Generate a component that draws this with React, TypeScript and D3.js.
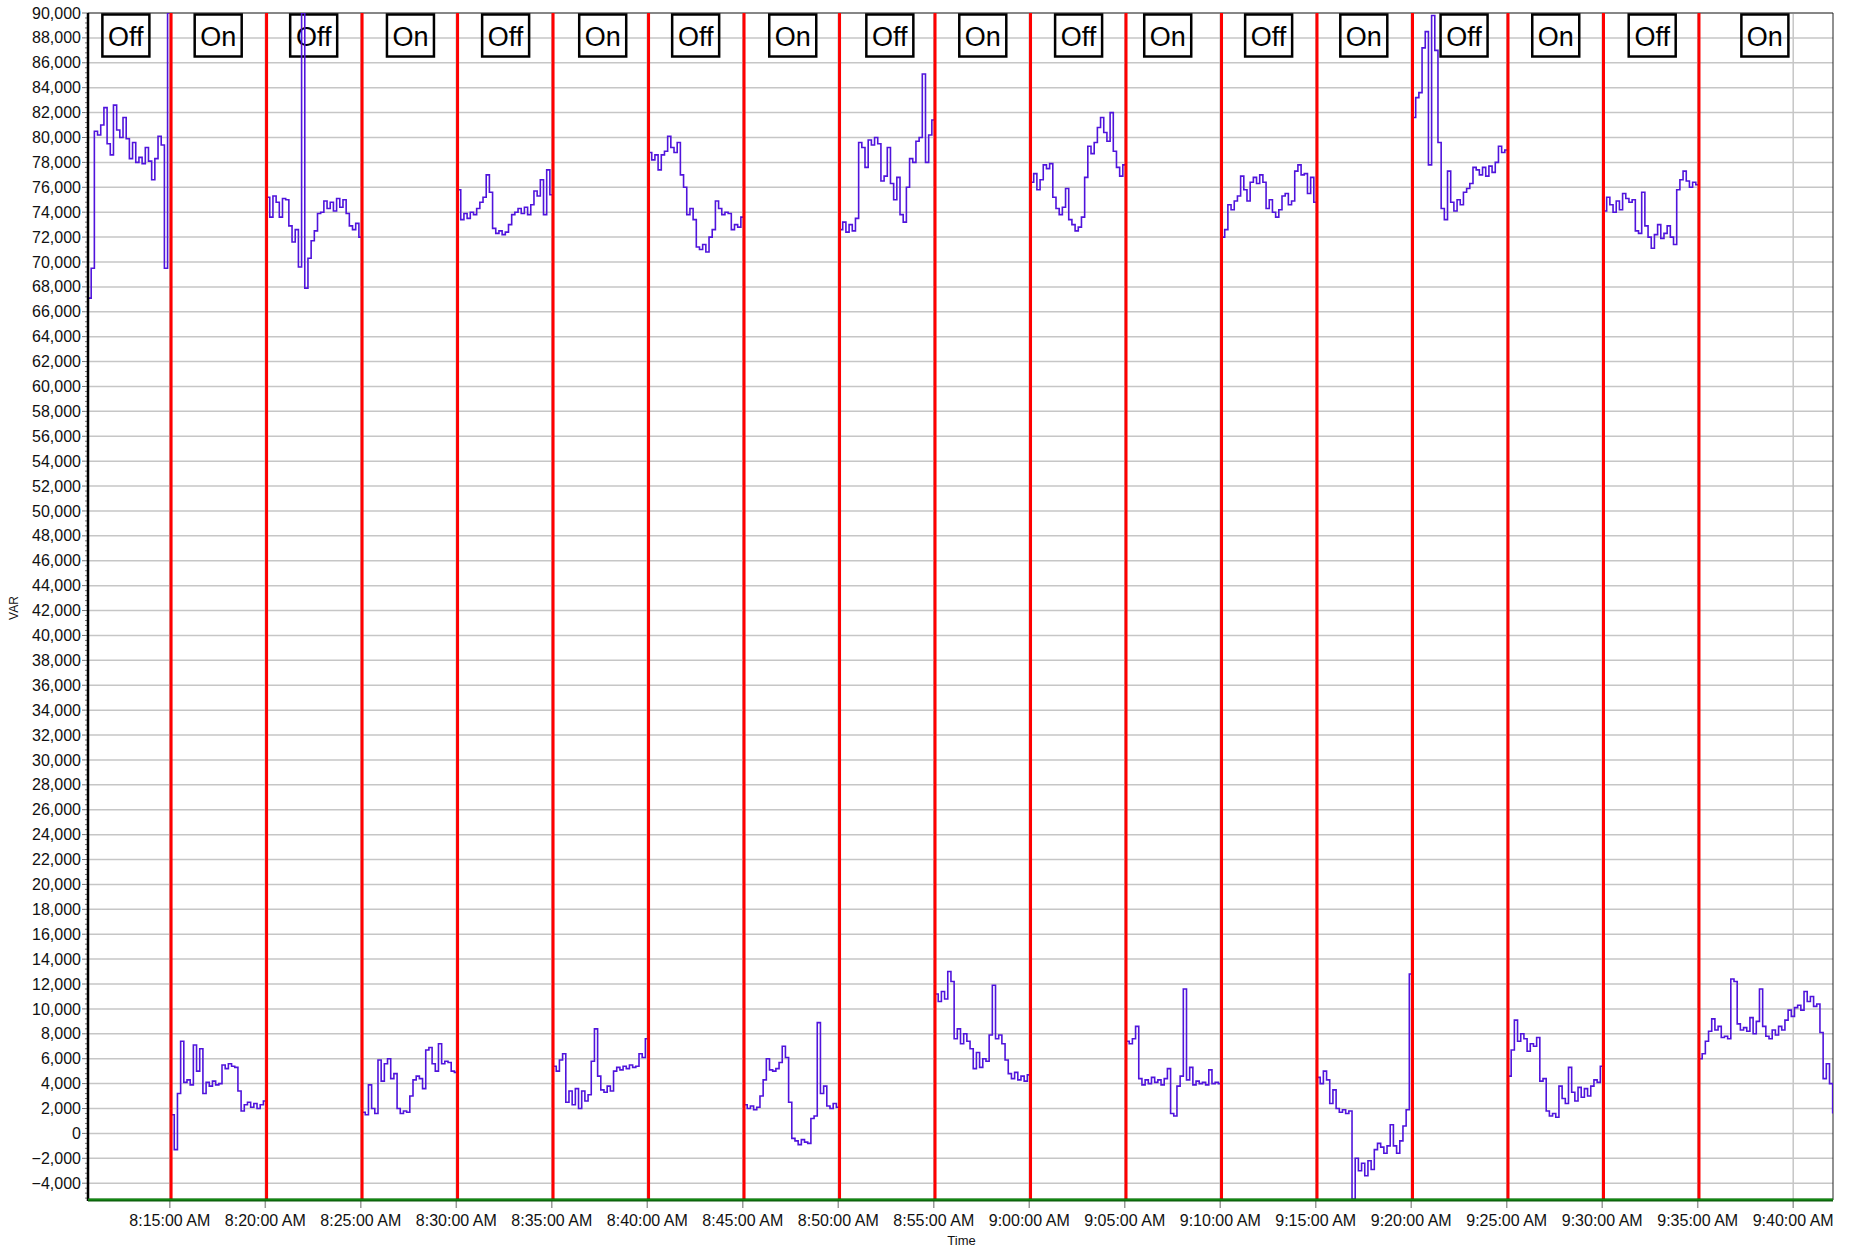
import * as d3 from "d3";

const width = 1853;
const height = 1252;
const marginLeft = 88;
const marginRight = 20;
const marginTop = 13;
const marginBottom = 52;

// time span of the recording
const startTime = "8:10:43";
const endTime = "9:42:05";
const stepSeconds = 10; // one reading every 10 s, values in kVAR

// red switch lines
const switchTimes = [
  "8:15:04", "8:20:04", "8:25:04", "8:30:04", "8:35:04", "8:40:04",
  "8:45:04", "8:50:04", "8:55:04", "9:00:04", "9:05:04", "9:10:04",
  "9:15:04", "9:20:04", "9:25:04", "9:30:04", "9:35:04",
];

// box labels (centre time + text)
const labelTimes = [
  "8:12:42", "8:17:32", "8:22:32", "8:27:36", "8:32:35", "8:37:40",
  "8:42:32", "8:47:37", "8:52:42", "8:57:34", "9:02:35", "9:07:15",
  "9:12:32", "9:17:31", "9:22:46", "9:27:34", "9:32:37", "9:38:31",
];
const labelTexts = [
  "Off", "On", "Off", "On", "Off", "On", "Off", "On", "Off",
  "On", "Off", "On", "Off", "On", "Off", "On", "Off", "On",
];

// readings per period (kVAR)
const seg0810 = [67.1, 69.5, 80.5, 80.2, 81.0, 82.4, 79.5, 78.6, 82.6, 80.6, 80.0, 81.6, 79.9, 78.3, 79.6, 78.0, 78.4, 77.9, 79.2, 78.1, 76.6, 78.3, 80.1, 79.4, 69.5, 90.0, 71.5];
const seg0815 = [1.5, -1.3, 3.2, 7.4, 4.1, 4.3, 3.9, 7.1, 5.0, 6.8, 3.2, 4.1, 3.8, 4.2, 3.9, 4.0, 5.5, 5.2, 5.6, 5.4, 5.3, 3.4, 1.8, 2.3, 2.5, 2.1, 2.4, 2.0, 2.3, 2.6, 3.0];
const seg0820 = [75.2, 73.6, 75.3, 74.8, 73.6, 75.1, 75.0, 72.9, 71.6, 72.6, 69.6, 90.0, 67.9, 70.3, 71.7, 72.5, 73.9, 74.0, 74.9, 74.3, 74.8, 74.1, 75.1, 74.4, 75.0, 73.9, 72.9, 72.6, 73.1, 72.0, 71.8];
const seg0825 = [1.7, 1.5, 3.9, 2.0, 1.6, 5.9, 4.2, 5.6, 6.0, 4.4, 4.8, 2.0, 1.6, 1.8, 1.7, 3.0, 4.3, 4.6, 4.4, 3.6, 6.7, 6.9, 5.6, 5.0, 7.2, 5.6, 5.8, 5.7, 5.0, 4.9, 5.0];
const seg0830 = [75.8, 73.4, 73.9, 73.5, 74.0, 73.8, 74.3, 74.8, 75.2, 77.0, 75.6, 72.7, 72.3, 72.5, 72.2, 72.4, 73.0, 73.8, 74.0, 74.3, 73.9, 74.4, 73.8, 74.6, 75.7, 75.3, 76.6, 73.8, 77.4, 75.4, 76.0];
const seg0835 = [5.4, 5.0, 5.9, 6.4, 2.5, 3.4, 2.3, 3.6, 2.0, 3.4, 2.6, 3.1, 5.8, 8.4, 4.6, 3.5, 3.3, 3.8, 3.4, 5.0, 5.3, 5.1, 5.4, 5.2, 5.5, 5.3, 5.4, 6.4, 6.1, 7.6, 8.1];
const seg0840 = [78.8, 78.2, 78.6, 77.4, 78.6, 78.9, 80.1, 79.2, 78.8, 79.6, 77.0, 76.0, 73.8, 74.3, 73.4, 71.2, 71.0, 71.4, 70.8, 72.0, 72.6, 74.9, 74.3, 73.8, 74.0, 73.9, 72.6, 73.0, 72.8, 73.6, 73.4];
const seg0845 = [2.3, 2.0, 2.2, 1.9, 2.1, 3.0, 4.3, 6.0, 5.1, 5.0, 5.2, 5.7, 7.0, 6.1, 2.5, -0.4, -0.6, -0.9, -0.5, -0.7, -0.8, 1.2, 1.4, 8.9, 3.2, 3.8, 2.2, 2.0, 2.4, 2.1, 1.6];
const seg0850 = [72.6, 73.2, 72.4, 73.0, 72.5, 73.5, 79.6, 79.2, 77.6, 79.8, 79.4, 80.0, 79.5, 76.5, 76.9, 79.2, 76.3, 75.0, 76.8, 73.8, 73.2, 76.0, 78.3, 78.0, 79.7, 80.0, 85.1, 78.0, 80.2, 81.4, 80.8];
const seg0855 = [11.2, 10.6, 11.4, 10.8, 13.0, 12.2, 7.6, 8.4, 7.2, 8.0, 7.4, 6.8, 5.2, 6.5, 5.3, 6.0, 5.8, 7.9, 11.9, 7.6, 7.9, 7.2, 5.9, 4.8, 4.4, 4.9, 4.3, 4.6, 4.2, 4.7, 4.3];
const seg0900 = [76.4, 77.1, 75.8, 76.6, 77.8, 77.5, 77.9, 75.2, 74.3, 73.8, 74.4, 75.9, 73.4, 73.0, 72.5, 72.8, 73.6, 76.8, 79.3, 78.7, 79.6, 80.8, 81.6, 80.4, 79.7, 82.0, 78.9, 77.6, 76.9, 77.8, 77.1];
const seg0905 = [7.4, 7.2, 7.6, 8.6, 4.4, 3.9, 4.3, 4.0, 4.5, 4.1, 4.3, 3.9, 4.4, 5.2, 1.6, 1.4, 3.8, 4.6, 11.6, 4.3, 5.3, 3.9, 4.2, 4.0, 4.1, 3.9, 5.1, 4.0, 4.1, 4.0, 2.4];
const seg0910 = [72.0, 72.6, 74.6, 74.2, 74.9, 75.3, 76.9, 75.8, 74.9, 76.4, 76.8, 76.3, 77.0, 76.4, 74.3, 75.0, 74.0, 73.6, 74.2, 75.3, 75.5, 74.6, 74.9, 77.3, 77.8, 77.0, 77.1, 75.5, 76.8, 74.8, 74.5];
const seg0915 = [4.5, 4.0, 5.0, 4.3, 2.4, 3.5, 2.0, 1.7, 1.9, 1.6, 1.8, -5.3, -2.0, -3.0, -2.4, -3.4, -2.2, -2.9, -1.3, -0.8, -1.1, -1.6, -1.0, 0.7, -1.0, -1.6, -0.6, 0.6, 1.9, 12.8, 2.0];
const seg0920 = [81.6, 83.2, 83.6, 87.2, 88.5, 77.8, 89.8, 87.0, 79.6, 74.3, 73.4, 77.3, 74.8, 74.1, 75.0, 74.6, 75.6, 75.9, 76.3, 77.6, 77.4, 77.0, 77.6, 76.9, 77.7, 77.2, 78.0, 79.3, 78.8, 79.0, 74.3];
const seg0925 = [4.6, 6.7, 9.1, 7.4, 8.0, 7.6, 6.6, 7.2, 7.0, 7.7, 4.2, 4.4, 1.8, 1.4, 1.6, 1.3, 3.8, 2.8, 2.4, 5.3, 3.3, 2.6, 3.7, 2.9, 3.6, 3.0, 3.8, 4.3, 4.1, 5.4, 4.8];
const seg0930 = [74.1, 75.2, 74.6, 74.0, 74.9, 74.2, 75.5, 75.1, 74.8, 75.0, 72.5, 72.3, 75.6, 72.9, 72.0, 71.1, 72.2, 73.0, 71.9, 72.3, 72.9, 72.0, 71.4, 75.8, 76.6, 77.3, 76.5, 76.0, 76.4, 76.2, 76.0];
const seg0935 = [6.0, 6.4, 7.4, 8.2, 9.2, 8.3, 8.6, 7.7, 7.8, 7.6, 12.4, 12.2, 8.8, 8.3, 8.5, 8.2, 9.3, 8.0, 9.0, 11.6, 8.6, 7.8, 7.6, 8.3, 7.9, 8.6, 8.3, 9.1, 9.9, 9.4, 10.1, 10.3, 9.9, 11.4, 10.6, 11.0, 10.2, 10.4, 8.1, 4.4, 5.6, 4.0, 1.6];

const segmentStarts = [startTime, ...switchTimes];
const segments = [
  seg0810, seg0815, seg0820, seg0825, seg0830, seg0835, seg0840, seg0845, seg0850,
  seg0855, seg0900, seg0905, seg0910, seg0915, seg0920, seg0925, seg0930, seg0935,
];

const parseTime = d3.timeParse("%H:%M:%S");
const axisFont = "'Liberation Sans', Arial, sans-serif";

const App = () => {
  const plotRight = width - marginRight;
  const plotBottom = height - marginBottom;

  const xScale = d3
    .scaleTime()
    .domain([parseTime(startTime), parseTime(endTime)])
    .range([marginLeft, plotRight]);

  const yScale = d3
    .scaleLinear()
    .domain([-5350, 90000])
    .range([plotBottom, marginTop]);

  const xTicks = xScale.ticks(d3.timeMinute.every(5));
  const yTicks = d3.range(-4000, 90001, 2000);
  const yMinor = d3.range(-5200, 90001, 400).filter((v) => v % 2000 !== 0);
  const fmtTime = d3.timeFormat("%-I:%M:%S %p");
  const fmtNum = d3.format(",");

  // readings hold their value until the next one
  const line = d3
    .line<[Date, number]>()
    .x((d) => xScale(d[0]))
    .y((d) => yScale(d[1]))
    .curve(d3.curveStepAfter);

  const paths = segments.map((vals, i) => {
    const t0 = parseTime(segmentStarts[i]);
    const pts: [Date, number][] = vals.map((v, k) => [
      d3.timeSecond.offset(t0, k * stepSeconds),
      v * 1000,
    ]);
    return line(pts);
  });

  return (
    <svg
      width={width}
      height={height}
      viewBox={`0 0 ${width} ${height}`}
      style={{ position: "absolute", left: 0, top: 0, background: "#fff" }}
    >
      <defs>
        <clipPath id="plot-clip">
          <rect x={marginLeft} y={marginTop} width={plotRight - marginLeft} height={plotBottom - marginTop} />
        </clipPath>
      </defs>

      {/* grid */}
      <g className="grid" stroke="#c6c6c6" strokeWidth={1.5}>
        {yTicks.map((v) => (
          <line key={v} x1={marginLeft} x2={plotRight} y1={yScale(v)} y2={yScale(v)} />
        ))}
        <line x1={marginLeft} x2={plotRight} y1={marginTop} y2={marginTop} />
        {xTicks.map((t) => (
          <line key={+t} x1={xScale(t)} x2={xScale(t)} y1={marginTop} y2={plotBottom} />
        ))}
      </g>

      {/* frame */}
      <line x1={marginLeft} x2={plotRight} y1={marginTop} y2={marginTop} stroke="#444" strokeWidth={1} />
      <line x1={plotRight} x2={plotRight} y1={marginTop} y2={plotBottom} stroke="#222" strokeWidth={1} />

      {/* state labels */}
      <g className="labels">
        {labelTimes.map((t, i) => {
          const cx = xScale(parseTime(t));
          return (
            <g key={t}>
              <rect x={cx - 23.5} y={14.5} width={47} height={42} fill="none" stroke="#000" strokeWidth={2.5} />
              <text
                x={cx}
                y={46}
                textAnchor="middle"
                fontFamily={axisFont}
                fontSize={27}
                fill="#000"
              >
                {labelTexts[i]}
              </text>
            </g>
          );
        })}
      </g>

      {/* measurement */}
      <g clipPath="url(#plot-clip)">
        {paths.map((d, i) => (
          <path key={i} d={d ?? ""} fill="none" stroke="#5014dc" strokeWidth={1.6} />
        ))}
      </g>

      {/* switch lines */}
      <g className="switches" stroke="#ff0000" strokeWidth={3}>
        {switchTimes.map((t) => {
          const x = xScale(parseTime(t));
          return <line key={t} x1={x} x2={x} y1={marginTop} y2={plotBottom} />;
        })}
      </g>

      {/* y axis */}
      <g className="y-axis" fontFamily={axisFont} fontSize={16} fill="#111">
        {yMinor.map((v) => (
          <line key={v} x1={marginLeft - 3} x2={marginLeft} y1={yScale(v)} y2={yScale(v)} stroke="#777" strokeWidth={1} />
        ))}
        {yTicks.map((v) => (
          <g key={v}>
            <line x1={marginLeft - 6} x2={marginLeft} y1={yScale(v)} y2={yScale(v)} stroke="#777" strokeWidth={1} />
            <text x={marginLeft - 7} y={yScale(v)} dy="0.35em" textAnchor="end">
              {fmtNum(v)}
            </text>
          </g>
        ))}
        <text x={18} y={608} transform="rotate(-90,18,608)" textAnchor="middle" fontSize={12}>
          VAR
        </text>
      </g>
      <line x1={marginLeft} x2={marginLeft} y1={marginTop} y2={plotBottom + 1} stroke="#000" strokeWidth={2.5} />

      {/* x axis */}
      <g className="x-axis" fontFamily={axisFont} fontSize={16} fill="#111">
        {xTicks.map((t) => (
          <g key={+t}>
            <line x1={xScale(t)} x2={xScale(t)} y1={plotBottom} y2={plotBottom + 8} stroke="#999" strokeWidth={1.5} />
            <text x={xScale(t)} y={plotBottom + 26} textAnchor="middle">
              {fmtTime(t)}
            </text>
          </g>
        ))}
        <text x={(marginLeft + plotRight) / 2 + 1} y={1245} textAnchor="middle" fontSize={13}>
          Time
        </text>
      </g>
      <line x1={marginLeft} x2={plotRight} y1={plotBottom} y2={plotBottom} stroke="#0a5a0a" strokeWidth={3} />
      <line x1={marginLeft} x2={plotRight} y1={plotBottom - 0.5} y2={plotBottom - 0.5} stroke="#118a11" strokeWidth={1.5} />
    </svg>
  );
};

export default App;
